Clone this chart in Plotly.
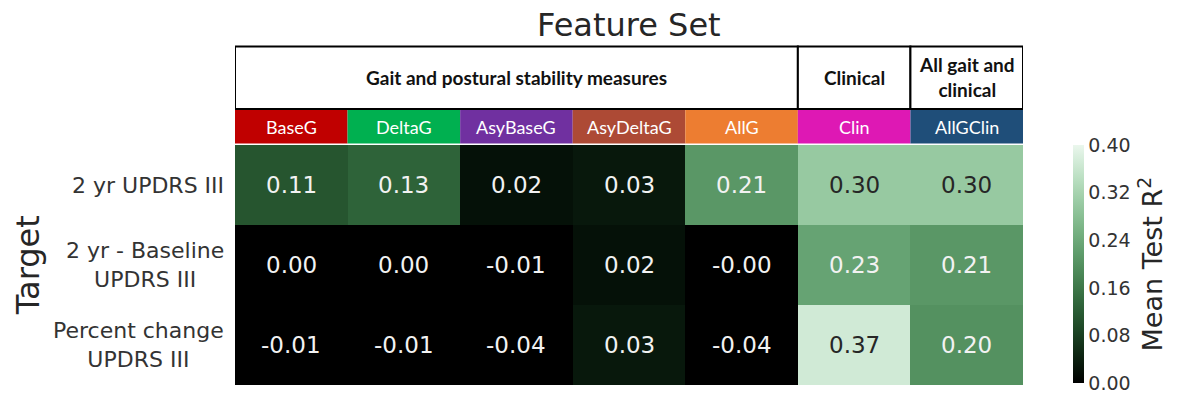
import math
import plotly.graph_objects as go

# ---------------- data ----------------
feature_sets = ["BaseG", "DeltaG", "AsyBaseG", "AsyDeltaG", "AllG", "Clin", "AllGClin"]
feature_colors = ["#C00000", "#00B050", "#7030A0", "#AD4A35", "#ED7D31", "#DE18B4", "#1F4E79"]
targets = ["2 yr UPDRS III", "2 yr - Baseline<br>UPDRS III", "Percent change<br>UPDRS III"]
row_2yr = [0.11, 0.13, 0.02, 0.03, 0.21, 0.30, 0.30]
row_delta = [0.00, 0.00, -0.01, 0.02, -0.004, 0.23, 0.21]
row_pct = [-0.01, -0.01, -0.04, 0.03, -0.04, 0.37, 0.20]
values = [row_2yr, row_delta, row_pct]
groups = ["Gait and postural stability measures", "Clinical", "All gait and<br>clinical"]
group_spans = [(0, 4), (5, 5), (6, 6)]
cbar_ticks = [0.00, 0.08, 0.16, 0.24, 0.32, 0.40]
zmin, zmax = 0.0, 0.40

# ---------------- colormap (cubehelix start=2, rot=0, dark=0, light=.95) ----------------
def cubehelix(frac, start=2.0, rot=0.0, hue=0.8, dark=0.0, light=0.95):
    lam = dark + (light - dark) * frac
    phi = 2 * math.pi * (start / 3 + rot * frac)
    amp = hue * lam * (1 - lam) / 2
    c, s = math.cos(phi), math.sin(phi)
    r = lam + amp * (-0.14861 * c + 1.78277 * s)
    g = lam + amp * (-0.29227 * c - 0.90649 * s)
    b = lam + amp * (1.97294 * c)
    return tuple(min(1, max(0, v)) for v in (r, g, b))

def rgb_str(t):
    return "rgb(%d,%d,%d)" % tuple(round(255 * v) for v in t)

N = 32
colorscale = [[i / (N - 1), rgb_str(cubehelix(i / (N - 1)))] for i in range(N)]

def rel_lum(t):
    lin = [v / 12.92 if v <= 0.03928 else ((v + 0.055) / 1.055) ** 2.4 for v in t]
    return 0.2126 * lin[0] + 0.7152 * lin[1] + 0.0722 * lin[2]

xs = list(range(len(feature_sets)))
ys = list(range(len(targets)))

fig = go.Figure()
fig.add_trace(go.Heatmap(
    z=values, x=xs, y=ys, zmin=zmin, zmax=zmax, colorscale=colorscale,
    hoverinfo="skip",
    colorbar=dict(
        x=1.0635, xanchor="left", xref="paper", xpad=0, ypad=0,
        y=0.008, yanchor="bottom", len=0.992,
        thickness=11, outlinewidth=0, ticks="", tickvals=cbar_ticks,
        ticktext=["%.2f" % v for v in cbar_ticks],
        tickfont=dict(family="DejaVu Sans", size=19, color="#333333"),
        title=dict(text="Mean Test R<sup>2</sup>", side="right",
                   font=dict(family="DejaVu Sans", size=27, color="#262626")),
    ),
))

# cell annotations
for yi, row in enumerate(values):
    for xi, v in enumerate(row):
        frac = min(1, max(0, (v - zmin) / (zmax - zmin)))
        col = "#262626" if rel_lum(cubehelix(frac)) > 0.408 else "#F2F2F2"
        fig.add_annotation(x=xi, y=yi, text=f"{v:.2f}", showarrow=False,
                           xanchor="center", yanchor="middle",
                           font=dict(family="DejaVu Sans", size=23, color=col))

# y labels
for yi, lab in enumerate(targets):
    fig.add_annotation(x=-0.0114, xref="paper", y=yi, yref="y", text=lab, showarrow=False,
                       xanchor="right", yanchor="middle", align="center",
                       font=dict(family="DejaVu Sans", size=22, color="#333333"))

# colored feature-set header band
for xi, (name, c) in enumerate(zip(feature_sets, feature_colors)):
    fig.add_shape(type="rect", xref="x", yref="paper", x0=xi - 0.5, x1=xi + 0.5,
                  y0=1.006, y1=1.146, fillcolor=c, line=dict(width=0), layer="above")
    fig.add_annotation(x=xi, xref="x", y=1.076, yref="paper", text=name, showarrow=False,
                       xanchor="center", yanchor="middle",
                       font=dict(family="Lato", size=18, color="white"))

# group boxes
for (a, b), g in zip(group_spans, groups):
    fig.add_shape(type="rect", xref="x", yref="paper", x0=a - 0.5, x1=b + 0.5,
                  y0=1.15, y1=1.41, fillcolor="white", line=dict(color="black", width=2))
    fig.add_annotation(x=(a + b) / 2, xref="x", y=1.282, yref="paper", text="<b>%s</b>" % g,
                       showarrow=False, align="center", xanchor="center", yanchor="middle",
                       font=dict(family="Lato", size=19, color="#111111"))

# titles
fig.add_annotation(x=0.5, xref="paper", y=1.5, yref="paper", yanchor="middle",
                   xanchor="center", text="Feature Set", showarrow=False,
                   font=dict(family="DejaVu Sans", size=32, color="#262626"))
fig.add_annotation(x=-0.2625, xref="paper", y=0.5, yref="paper", text="Target",
                   textangle=-90, showarrow=False, xanchor="center", yanchor="middle",
                   font=dict(family="DejaVu Sans", size=32, color="#262626"))

fig.update_xaxes(showticklabels=False, showgrid=False, zeroline=False, ticks="",
                 range=[-0.5, len(feature_sets) - 0.5])
fig.update_yaxes(showticklabels=False, showgrid=False, zeroline=False, ticks="",
                 autorange="reversed")
fig.update_layout(width=1187, height=399, margin=dict(l=235, r=164, t=145, b=14),
                  plot_bgcolor="white", paper_bgcolor="white", showlegend=False)

fig.write_html("out.html", config={"displayModeBar": False},
               post_script="document.body.style.margin='0';document.body.style.overflow='hidden';")
